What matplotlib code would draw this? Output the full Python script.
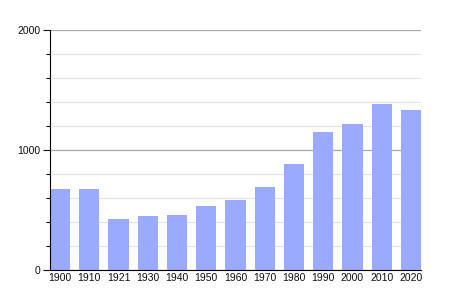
import matplotlib.pyplot as plt
from matplotlib.ticker import MultipleLocator

years = ['1900', '1910', '1921', '1930', '1940', '1950', '1960',
         '1970', '1980', '1990', '2000', '2010', '2020']
population = [675, 675, 425, 450, 458, 533, 583, 692, 883, 1150, 1217, 1383, 1333]

plt.rcParams['font.family'] = ['Liberation Sans', 'DejaVu Sans']

fig = plt.figure(figsize=(4.5, 3), dpi=100)
ax = fig.add_axes([50 / 450, 30 / 300, 371 / 450, 240 / 300])

w = 0.686
x = list(range(len(years)))
ax.bar(x, population, width=w, color='#99aaff', zorder=3)

ax.set_xlim(-w / 2, len(years) - 1 + w / 2)
ax.set_ylim(0, 2000)
ax.set_xticks(x)
ax.set_xticklabels(years)
ax.yaxis.set_major_locator(MultipleLocator(1000))
ax.yaxis.set_minor_locator(MultipleLocator(200))

# grid: darker for major, light for minor
ax.grid(axis='y', which='major', color='#aaaaaa', lw=0.9, zorder=1)
ax.grid(axis='y', which='minor', color='#e2e2e2', lw=0.8, zorder=1)

for s in ['top', 'right']:
    ax.spines[s].set_visible(False)
ax.spines['left'].set_color('black')
ax.spines['bottom'].set_color('black')
ax.spines['left'].set_zorder(4)
ax.spines['bottom'].set_zorder(4)

ax.tick_params(axis='x', length=0, pad=2, labelsize=7.5, colors='#111111')
ax.tick_params(axis='y', which='major', length=5, width=0.8, pad=2,
               labelsize=7.5, colors='#111111')
ax.tick_params(axis='y', which='minor', length=3, width=0.8)

fig.savefig('out.png', dpi=100)
